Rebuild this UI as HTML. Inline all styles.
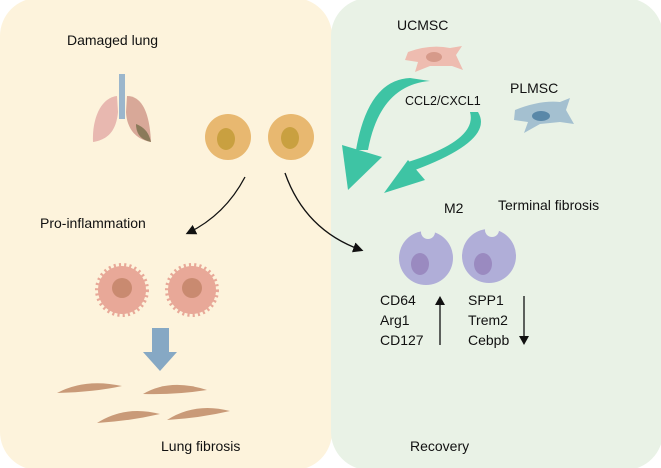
<!DOCTYPE html>
<html><head><meta charset="utf-8"><style>
html,body{margin:0;padding:0;background:#fff}
svg{display:block}
text{font-family:"Liberation Sans",sans-serif;fill:#111}
</style></head><body>
<svg width="661" height="468" viewBox="0 0 661 468" xmlns="http://www.w3.org/2000/svg">
<rect x="0" y="0" width="661" height="468" fill="#fff"/>
<rect x="0" y="-2" width="332" height="472" rx="38" fill="#fdf3dc"/>
<rect x="331" y="-2" width="332" height="472" rx="38" fill="#e9f2e6"/>
<defs><marker id="ah" markerWidth="8" markerHeight="8" refX="6" refY="4" orient="auto"><path d="M0,0 L8,4 L0,8 z" fill="#111"/></marker></defs>

<text x="67" y="45" font-size="14">Damaged lung</text>
<!-- lungs -->
<rect x="119" y="74" width="6" height="45" fill="#9bb6cc"/>
<path d="M117,96 C100,98 92,120 93,142 C105,140 116,134 118,112 Z" fill="#e8b8b0"/>
<path d="M127,96 C145,96 150,120 151,142 C139,140 127,132 126,112 Z" fill="#d8a898"/>
<path d="M136,124 C146,128 149,134 151,142 C141,140 136,134 136,124 Z" fill="#8a7a5a"/>

<!-- orange cells -->
<g fill="#e8b870"><circle cx="228" cy="137" r="23"/><circle cx="291" cy="137" r="23"/></g>
<g fill="#c9a040"><ellipse cx="226" cy="139" rx="9" ry="11"/><ellipse cx="290" cy="138" rx="9" ry="11"/></g>

<path d="M245,177 Q225,215 188,233" fill="none" stroke="#111" stroke-width="1.3" marker-end="url(#ah)"/>
<path d="M285,173 Q305,230 361,250" fill="none" stroke="#111" stroke-width="1.3" marker-end="url(#ah)"/>

<text x="40" y="228" font-size="14">Pro-inflammation</text>
<!-- spiky cells -->
<g fill="#e8a898" stroke="#e8a898" stroke-width="6" stroke-dasharray="2 3"><circle cx="122" cy="290" r="24"/><circle cx="192" cy="290" r="24"/></g>
<g fill="#c98a70"><circle cx="122" cy="288" r="10"/><circle cx="192" cy="288" r="10"/></g>
<!-- blue arrow -->
<rect x="152" y="328" width="17" height="25" fill="#86a8c4"/>
<polygon points="143,352 177,352 160,371" fill="#86a8c4"/>
<!-- fibroblasts -->
<g fill="#c99a78">
<path d="M57,393 Q85,378 122,386 Q95,392 57,393 Z"/>
<path d="M143,394 Q170,378 207,390 Q175,395 143,394 Z"/>
<path d="M97,423 Q125,405 160,414 Q130,421 97,423 Z"/>
<path d="M167,420 Q195,402 230,411 Q200,418 167,420 Z"/>
</g>
<text x="161" y="451" font-size="14">Lung fibrosis</text>

<text x="397" y="30" font-size="14">UCMSC</text>
<path d="M408,52 Q430,44 450,48 L462,46 L456,55 L463,70 L452,66 L430,66 L415,72 L418,62 L405,60 Z" fill="#eebcb0"/>
<ellipse cx="434" cy="57" rx="8" ry="5" fill="#d69a8a"/>
<text x="510" y="93" font-size="14">PLMSC</text>
<path d="M515,110 Q540,100 560,102 L570,98 L566,110 L574,124 L560,122 L540,124 L524,133 L528,122 L514,120 Z" fill="#a4c0d0"/>
<ellipse cx="541" cy="116" rx="9" ry="5" fill="#5a88a8"/>
<text x="405" y="105" font-size="12.5">CCL2/CXCL1</text>

<!-- teal arrows -->
<path d="M430,81 Q380,85 368,150 L356,150 Q368,80 410,78 Z" fill="#3ec4a4"/>
<polygon points="342,145 382,157 348,190" fill="#3ec4a4"/>
<path d="M478,112 Q495,140 415,170 L408,162 Q478,140 470,112 Z" fill="#3ec4a4"/>
<polygon points="408,160 425,180 384,193" fill="#3ec4a4"/>

<text x="444" y="213" font-size="14">M2</text>
<text x="498" y="210" font-size="14">Terminal fibrosis</text>
<g fill="#b0aed8"><ellipse cx="426" cy="258" rx="27" ry="27"/><ellipse cx="489" cy="256" rx="27" ry="27"/></g>
<g fill="#e9f2e6"><circle cx="428" cy="232" r="7"/><circle cx="492" cy="230" r="7"/></g>
<g fill="#9a8ac0"><ellipse cx="420" cy="264" rx="9" ry="11"/><ellipse cx="483" cy="264" rx="9" ry="11"/></g>

<g font-size="14"><text x="380" y="305">CD64</text><text x="380" y="325">Arg1</text><text x="380" y="345">CD127</text>
<text x="468" y="305">SPP1</text><text x="468" y="325">Trem2</text><text x="468" y="345">Cebpb</text></g>
<line x1="440" y1="345" x2="440" y2="304" stroke="#111" stroke-width="1.3"/>
<polygon points="435,305 445,305 440,296" fill="#111"/>
<line x1="524" y1="296" x2="524" y2="337" stroke="#111" stroke-width="1.3"/>
<polygon points="519,336 529,336 524,345" fill="#111"/>
<text x="410" y="451" font-size="14">Recovery</text>
</svg>
</body></html>
